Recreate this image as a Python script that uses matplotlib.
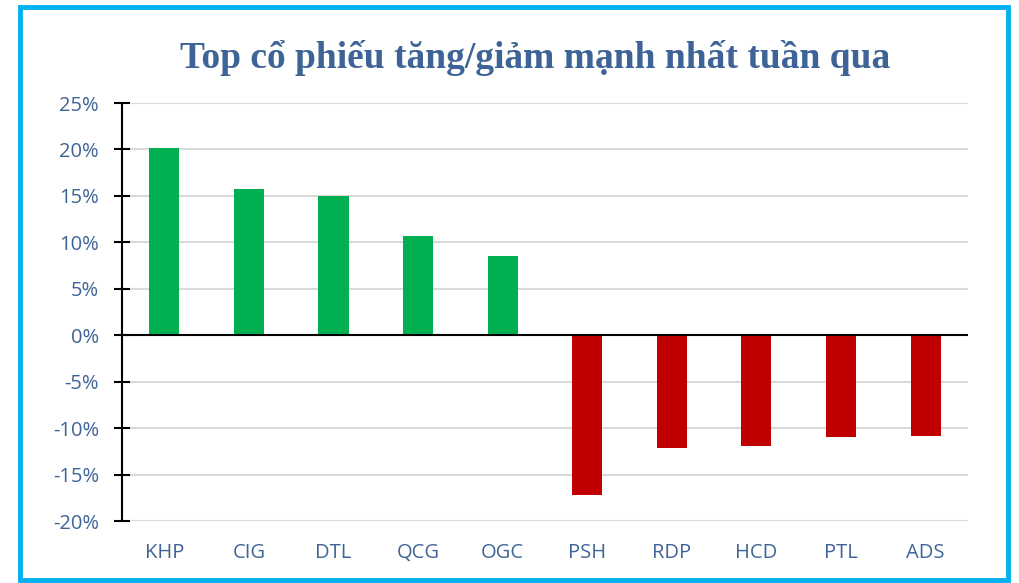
import matplotlib.pyplot as plt
from matplotlib.patches import Rectangle
from matplotlib.ticker import FuncFormatter

tickers = ['KHP', 'CIG', 'DTL', 'QCG', 'OGC', 'PSH', 'RDP', 'HCD', 'PTL', 'ADS']
changes = [20.15, 15.7, 15.0, 10.7, 8.5, -17.2, -12.15, -11.95, -11.0, -10.9]
y_ticks = [-20, -15, -10, -5, 0, 5, 10, 15, 20, 25]

text_color = '#3E6497'
colors = ['#00B050' if v >= 0 else '#C00000' for v in changes]

fig = plt.figure(figsize=(10.2, 5.83), dpi=100)
ax = fig.add_axes([0.1196, 0.1063, 0.8294, 0.717])

# light grid behind the bars
for t in y_ticks:
    if t != 0:
        ax.axhline(t, color='#D9D9D9', lw=1.5, zorder=0)

ax.bar(range(len(tickers)), changes, width=0.355, color=colors, zorder=2)
ax.axhline(0, color='black', lw=1.5, zorder=3)

ax.set_xlim(-0.5, len(tickers) - 0.5)
ax.set_ylim(-20, 25)
ax.set_yticks(y_ticks)
ax.yaxis.set_major_formatter(FuncFormatter(lambda v, p: f'{v:.0f}%'))
ax.set_xticks(range(len(tickers)))
ax.set_xticklabels(tickers)

for s in ['top', 'right', 'bottom']:
    ax.spines[s].set_visible(False)
ax.spines['left'].set_linewidth(1.5)
ax.tick_params(axis='y', direction='inout', length=11, width=1.5, pad=11,
               labelsize=14.5, labelcolor=text_color)
ax.tick_params(axis='x', length=0, pad=16, labelsize=14.5, labelcolor=text_color)
for lab in ax.get_xticklabels() + ax.get_yticklabels():
    lab.set_fontfamily('Open Sans')

fig.text(0.525, 0.9, 'Top cổ phiếu tăng/giảm mạnh nhất tuần qua',
         ha='center', va='center', fontsize=27, fontweight='bold',
         family='Liberation Serif', color=text_color)

# cyan frame around the chart
fig.patches.append(Rectangle((0.0196, 0.005), 0.969, 0.983, transform=fig.transFigure,
                             fill=False, edgecolor='#00B0F0', lw=3.5))

fig.savefig('out.png', dpi=100)
